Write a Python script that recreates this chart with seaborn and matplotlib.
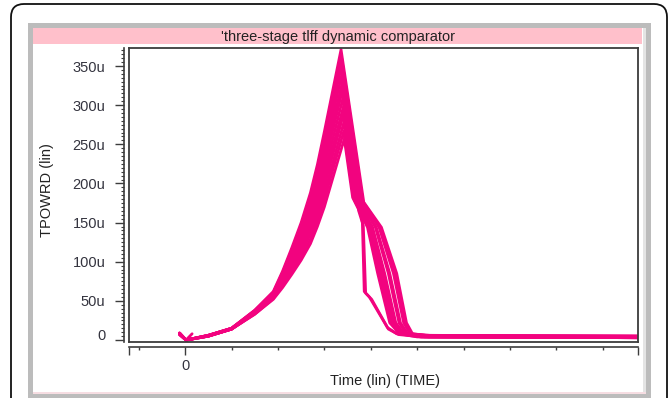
import matplotlib
matplotlib.use("Agg")
import matplotlib.pyplot as plt
import numpy as np
import pandas as pd
import seaborn as sns
from matplotlib.patches import Rectangle, FancyBboxPatch
from matplotlib.transforms import IdentityTransform
from matplotlib.ticker import MultipleLocator, FixedLocator

# ---------------- data ----------------
TITLE = "'three-stage tlff dynamic comparator"
Y_LABEL = "TPOWRD (lin)"
X_LABEL = "Time (lin) (TIME)"

Y_TICKS = [0, 50, 100, 150, 200, 250, 300, 350]
Y_TICK_LABELS = ["0", "50u", "100u", "150u", "200u", "250u", "300u", "350u"]
X_TICK_LABEL = "0"

# rising part, shared sample times (time axis in tick units)
RISE_T = [-0.12, 0.02, 0.5, 1.0, 1.5, 1.9, 2.1, 2.3, 2.5, 2.7, 2.85, 3.0]
RISE_V = [
    [9, 0, 6, 15, 38, 62, 88, 118, 150, 188, 224, 266],
    [9, 0, 6, 15, 38, 61, 86, 115, 146, 182, 217, 257],
    [8, 0, 6, 15, 37, 60, 84, 112, 141, 176, 210, 249],
    [8, 0, 6, 15, 37, 59, 82, 109, 137, 170, 203, 240],
    [9, 0, 6, 15, 36, 58, 80, 106, 133, 165, 196, 231],
    [8, 0, 6, 14, 36, 57, 79, 103, 128, 159, 188, 223],
    [7, 0, 5, 14, 35, 56, 76, 99, 124, 152, 181, 213],
    [8, 0, 5, 14, 35, 56, 75, 96, 119, 146, 173, 205],
    [8, 0, 5, 14, 34, 55, 73, 93, 115, 141, 166, 196],
    [7, 0, 5, 14, 34, 54, 71, 90, 111, 135, 159, 187],
    [7, 0, 5, 14, 33, 53, 69, 87, 106, 129, 152, 179],
    [7, 0, 5, 14, 33, 52, 67, 84, 102, 123, 145, 170],
]
PEAK_T = [3.36, 3.37, 3.37, 3.38, 3.39, 3.39, 3.40, 3.41, 3.41, 3.42, 3.42, 3.43]
PEAK_V = [371, 361, 350, 340, 330, 319, 309, 298, 288, 278, 267, 257]

# falling part and flat tail, per curve
FALL_T = [
    [3.85, 4.23, 4.56, 4.77, 4.90, 5.30, 9.8],
    [3.83, 4.20, 4.52, 4.74, 4.87, 5.27, 9.8],
    [3.81, 4.18, 4.49, 4.71, 4.85, 5.25, 9.8],
    [3.78, 3.82, 3.86, 3.97, 4.36, 4.56, 5.10, 9.8],
    [3.76, 4.12, 4.41, 4.64, 4.80, 5.19, 9.8],
    [3.74, 4.10, 4.38, 4.61, 4.77, 5.17, 9.8],
    [3.74, 3.84, 3.89, 4.02, 4.38, 4.60, 5.10, 9.8],
    [3.70, 4.04, 4.30, 4.54, 4.72, 5.11, 9.8],
    [3.67, 4.01, 4.26, 4.51, 4.70, 5.08, 9.8],
    [3.65, 3.98, 4.22, 4.47, 4.67, 5.05, 9.8],
    [3.63, 3.96, 4.19, 4.44, 4.65, 5.03, 9.8],
    [3.61, 3.93, 4.15, 4.41, 4.62, 5.00, 9.8],
]
FALL_V = [
    [176, 144, 85, 22, 8, 5, 4],
    [177, 144, 85, 22, 8, 6, 5],
    [177, 144, 85, 22, 8, 4, 3],
    [165, 150, 62, 55, 16, 8, 5, 4],
    [178, 144, 85, 22, 8, 6, 5],
    [179, 144, 85, 22, 8, 4, 3],
    [165, 146, 60, 52, 14, 7, 4, 3],
    [180, 144, 85, 22, 8, 5, 4],
    [180, 144, 85, 22, 8, 4, 3],
    [181, 144, 85, 22, 8, 6, 5],
    [181, 144, 85, 22, 8, 5, 4],
    [182, 144, 85, 22, 8, 4, 3],
]

# little start glitch near t = 0
GLITCH_T = [0.15, 0.02]
GLITCH_V = [8, 0]

X_LIM = (-1.21, 9.76)
Y_LIM = (-2.5, 373)

PINK = "#f2037f"
FRAME = "#3c3c3c"
LABEL_C = "#34343f"

# ---------------- build long table ----------------
rows = []
for i in range(len(PEAK_V)):
    ts = RISE_T + [PEAK_T[i]] + FALL_T[i]
    vs = RISE_V[i] + [PEAK_V[i]] + FALL_V[i]
    for k, (t, v) in enumerate(zip(ts, vs)):
        rows.append({"t": t, "v": v, "curve": f"c{i}", "order": k})
for k, (t, v) in enumerate(zip(GLITCH_T, GLITCH_V)):
    rows.append({"t": t, "v": v, "curve": "glitch", "order": k})
df = pd.DataFrame(rows)

# ---------------- figure ----------------
sns.set_theme(style="white")
plt.rcParams["font.family"] = ["Liberation Sans", "DejaVu Sans"]
W, H = 671, 398
fig = plt.figure(figsize=(W / 100, H / 100), dpi=100)
fig.patch.set_facecolor("white")
ident = IdentityTransform()

def prect(x0, y0, x1, y1, **kw):
    # pixel rect given in top-left image coordinates
    r = Rectangle((x0, H - y1), x1 - x0, y1 - y0, transform=ident, zorder=-10, **kw)
    fig.patches.append(r)
    return r

# outer rounded frame
outer = FancyBboxPatch((11, -30), 656, H - 4 + 30, boxstyle="round,pad=0,rounding_size=13",
                       transform=ident, fc="white", ec="#111111", lw=1.3, zorder=-20)
fig.patches.append(outer)
# grey panel
prect(28, 23, 651, 402, fc="#bcbcbc", ec="none")
prect(33, 28, 643, 393, fc="white", ec="none")
prect(643, 28, 646, 393, fc="#e4e4e4", ec="none")
prect(33, 392, 646, 394, fc="#f6dde2", ec="none")
# pink title bar
prect(33, 28, 642, 44, fc="#ffc0cb", ec="none")
fig.text(338 / W, 1 - 37.5 / H, TITLE, ha="center", va="center", fontsize=10.5, color="#222222")

# main plot axes
L, R, T, B = 129, 638, 48, 342
ax = fig.add_axes([L / W, 1 - B / H, (R - L) / W, (B - T) / H])
ax.set_zorder(5)
ax.set_facecolor("white")
sns.lineplot(data=df, x="t", y="v", units="curve", estimator=None, sort=False,
             color=PINK, lw=2.0, ax=ax, legend=False)
ax.set_xlim(*X_LIM)
ax.set_ylim(*Y_LIM)
ax.set(xlabel="", ylabel="")
ax.tick_params(left=False, bottom=False, labelleft=False, labelbottom=False)
for s in ax.spines.values():
    s.set_visible(True)
    s.set_color(FRAME)
    s.set_linewidth(1.3)

# detached y axis (5 px left of the frame)
sy = ax.secondary_yaxis(-5 / (R - L))
sy.set_yticks(Y_TICKS)
sy.set_yticklabels(Y_TICK_LABELS)
sy.yaxis.set_minor_locator(MultipleLocator(5))
sy.tick_params(which="major", direction="out", length=6.5, width=1, color=FRAME,
               pad=7, labelsize=10.5, labelcolor=LABEL_C)
sy.tick_params(which="minor", direction="out", length=2.2, width=0.8, color=FRAME)
sy.spines["left"].set_color(FRAME)
sy.spines["left"].set_linewidth(1.2)
lbls = sy.get_yticklabels()
lbls[0].set_va("baseline")

# detached x axis (5 px below the frame)
sx = ax.secondary_xaxis(-5 / (B - T))
sx.xaxis.set_major_locator(FixedLocator([X_LIM[0], 0, X_LIM[1]]))
sx.set_xticklabels(["", X_TICK_LABEL, ""])
sx.xaxis.set_minor_locator(MultipleLocator(1))
sx.tick_params(which="major", direction="out", length=5.5, width=1, color=FRAME,
               pad=3.5, labelsize=10.5, labelcolor=LABEL_C)
sx.tick_params(which="minor", direction="out", length=2.5, width=1, color=FRAME)
sx.spines["bottom"].set_color(FRAME)
sx.spines["bottom"].set_linewidth(1.2)

fig.text(47 / W, 1 - 190 / H, Y_LABEL, rotation=90, ha="center", va="center",
         fontsize=10.5, color="#222222")
fig.text(385 / W, 1 - 381 / H, X_LABEL, ha="center", va="center",
         fontsize=10.5, color="#222222")

fig.savefig("out.png", dpi=100)
